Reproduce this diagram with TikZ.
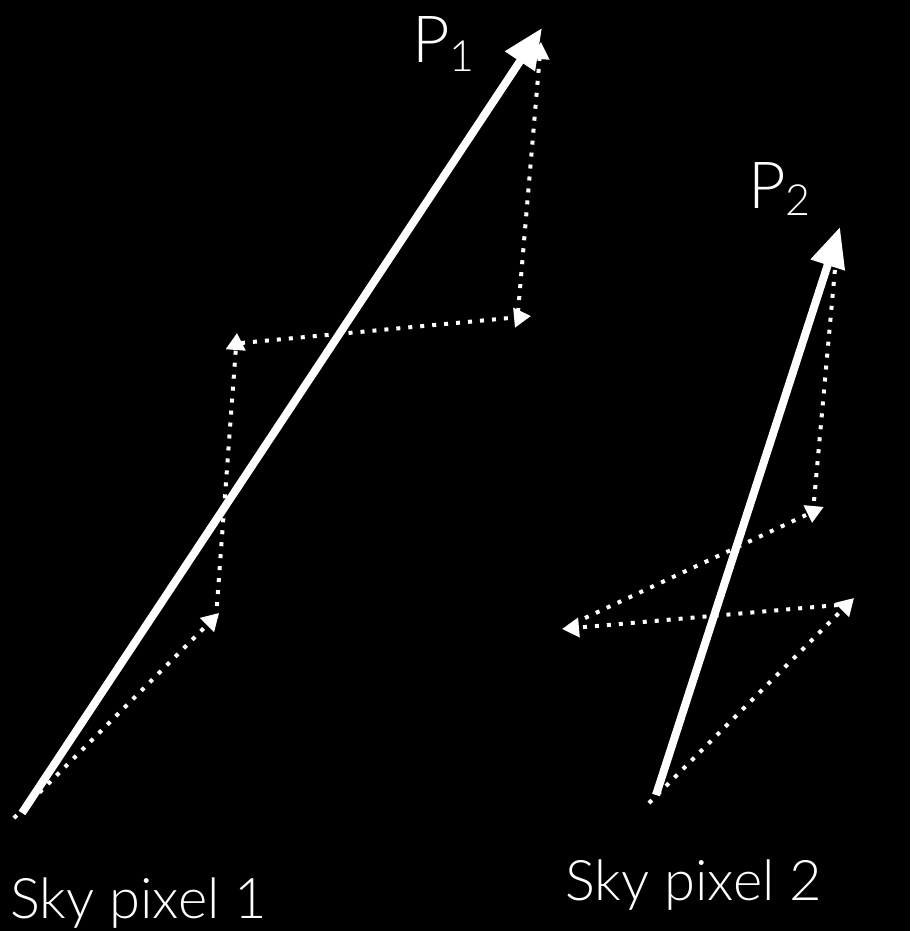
\documentclass[tikz,border=0pt]{standalone}
\usepackage{fontspec}
\setmainfont{Lato}[UprightFont=* Light]
\usetikzlibrary{arrows.meta}
\tikzset{
  solidvec/.style={white, line width=8pt, -{Triangle[length=40pt,width=34pt]}},
  dotvec/.style={white, line width=4pt, dash pattern=on 4pt off 8pt, -{Triangle[length=17pt,width=19pt]}},
  dotline/.style={white, line width=4pt, dash pattern=on 4pt off 8pt},
  lbl/.style={text=white, inner sep=0pt, anchor=base west},
}
\begin{document}
\begin{tikzpicture}[x=1pt,y=-1pt]
\fill[black] (0,0) rectangle (910,931);
\useasboundingbox (0,0) rectangle (910,931);
% Sky pixel 1 coordinates
\coordinate (o1) at (22,813);
\coordinate (p1) at (542,28);
\coordinate (s1) at (14,818);
\coordinate (a1) at (219,613);
\coordinate (a1s) at (216,618);
\coordinate (b1) at (237,333);
\coordinate (b1s) at (241,343);
\coordinate (c1) at (531,316);
\coordinate (c1s) at (518,312);
\coordinate (t1) at (541,42);
% Sky pixel 2 coordinates
\coordinate (o2) at (656,795);
\coordinate (p2) at (840,227);
\coordinate (s2) at (649,803);
\coordinate (d2) at (854,598);
\coordinate (d2s) at (838,605);
\coordinate (e2) at (562,629);
\coordinate (g2s) at (585,618);
\coordinate (g2) at (806,515);
\coordinate (t2) at (836,258);
\coordinate (f2) at (812,523);
% dotted vectors, pixel 1
\draw[dotvec] (s1) -- (a1);
\draw[dotvec] (a1s) -- (b1);
\draw[dotvec] (b1s) -- (c1);
\draw[dotvec] (c1s) -- (t1);
% dotted vectors, pixel 2
\draw[dotvec] (s2) -- (d2);
\draw[dotvec] (d2s) -- (e2);
\draw[dotline] (g2s) -- (g2);
\draw[dotvec] (t2) -- (f2);
% solid vectors
\draw[solidvec] (o1) -- (p1);
\draw[solidvec] (o2) -- (p2);
% labels
\node[lbl, font=\fontsize{65}{65}\selectfont] (P1) at (412,63) {P\raisebox{-9pt}{\fontsize{43}{43}\selectfont 1}};
\node[lbl, font=\fontsize{65}{65}\selectfont] (P2) at (748,208) {P\raisebox{-7pt}{\fontsize{43}{43}\selectfont 2}};
\node[lbl, font=\fontsize{56}{56}\selectfont] (L1) at (10,918) {Sky pixel 1};
\node[lbl, font=\fontsize{56}{56}\selectfont] (L2) at (565,900) {Sky pixel 2};
\end{tikzpicture}
\end{document}
